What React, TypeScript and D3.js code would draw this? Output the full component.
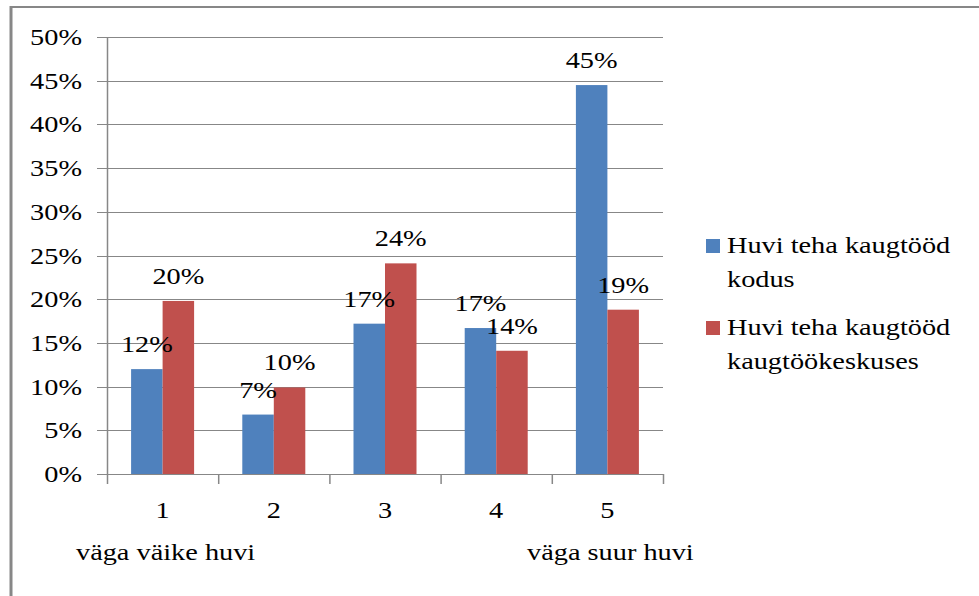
import React from "react";
import { scaleLinear, scaleBand, format, range } from "d3";

// chart values
const categories = ["1", "2", "3", "4", "5"];
const endLabels = ["väga väike huvi", "", "", "", "väga suur huvi"];
const seriesNames = [
  ["Huvi teha kaugtööd", "kodus"],
  ["Huvi teha kaugtööd", "kaugtöökeskuses"],
];
const kodus = [0.12, 0.068, 0.172, 0.167, 0.445];
const keskuses = [0.198, 0.099, 0.241, 0.141, 0.188];
const yTicks = range(0, 11).map((i) => i * 0.05);

const colors = ["#4F81BD", "#C0504D"];
const font = "'Liberation Serif', 'Times New Roman', serif";
const fs = 24;
const stretch = 1.18;
const gridColor = "#878787";

function T(props: { x: number; y: number; anchor?: string; children: any; dy?: string }) {
  return (
    <text
      transform={`translate(${props.x},${props.y}) scale(${stretch},1)`}
      textAnchor={props.anchor || "start"}
      dy={props.dy}
      fontFamily={font}
      fontSize={fs}
      fill="#000"
    >
      {props.children}
    </text>
  );
}

export default function App() {
  const W = 979;
  const H = 596;
  const left = 107;
  const right = 663;
  const top = 37;
  const bottom = 474;

  const y = scaleLinear().domain([0, 0.5]).range([bottom, top]);
  const x = scaleBand().domain(categories).range([left, right]).padding(0);
  const inner = scaleBand()
    .domain(["0", "1"])
    .range([0, x.bandwidth()])
    .paddingInner(0)
    .paddingOuter(0.765);
  const pct = format(".0%");
  const series = [kodus, keskuses];

  return (
    <svg width={W} height={H} style={{ position: "absolute", left: 0, top: 0, background: "#fff" }}>
      {/* outer frame */}
      <line x1={10} x2={W} y1={7} y2={7} stroke={gridColor} strokeWidth={2} />
      <line x1={11} x2={11} y1={6} y2={H} stroke={gridColor} strokeWidth={3} />

      {/* gridlines + y labels */}
      {yTicks.map((t, i) => (
        <g key={"g" + i}>
          <line x1={left - 10} x2={right} y1={Math.round(y(t)) + 0.5} y2={Math.round(y(t)) + 0.5} stroke={gridColor} strokeWidth={1.2} />
          <T x={82} y={y(t) + 8} anchor="end">
            {pct(t)}
          </T>
        </g>
      ))}

      {/* axes */}
      <line x1={left + 0.5} x2={left + 0.5} y1={top} y2={bottom + 10} stroke={gridColor} strokeWidth={1.5} />
      {categories.map((c, i) => (
        <line key={"t" + i} x1={x(c)! + x.bandwidth() + 0.5} x2={x(c)! + x.bandwidth() + 0.5} y1={bottom} y2={bottom + 10} stroke={gridColor} strokeWidth={1.5} />
      ))}

      {/* bars */}
      {series.map((vals, s) =>
        vals.map((v, i) => (
          <rect
            key={"b" + s + i}
            x={x(categories[i])! + inner(String(s))!}
            y={y(v)}
            width={inner.bandwidth()}
            height={bottom - y(v)}
            fill={colors[s]}
          />
        ))
      )}

      {/* data labels */}
      {series.map((vals, s) =>
        vals.map((v, i) => (
          <T key={"l" + s + i} x={x(categories[i])! + inner(String(s))! + inner.bandwidth() / 2} y={y(v) - 17} anchor="middle">
            {pct(v)}
          </T>
        ))
      )}

      {/* category labels */}
      {categories.map((c, i) => (
        <g key={"c" + i}>
          <T x={x(c)! + x.bandwidth() / 2} y={518} anchor="middle">
            {c}
          </T>
          {endLabels[i] && (
            <T x={x(c)! + x.bandwidth() / 2 + 3} y={560} anchor="middle">
              {endLabels[i]}
            </T>
          )}
        </g>
      ))}

      {/* legend */}
      {seriesNames.map((lines, s) => (
        <g key={"lg" + s}>
          <rect x={706} y={239 + s * 82} width={14} height={14} fill={colors[s]} />
          {lines.map((ln, j) => (
            <T key={j} x={727} y={253 + s * 82 + j * 34}>
              {ln}
            </T>
          ))}
        </g>
      ))}
    </svg>
  );
}
